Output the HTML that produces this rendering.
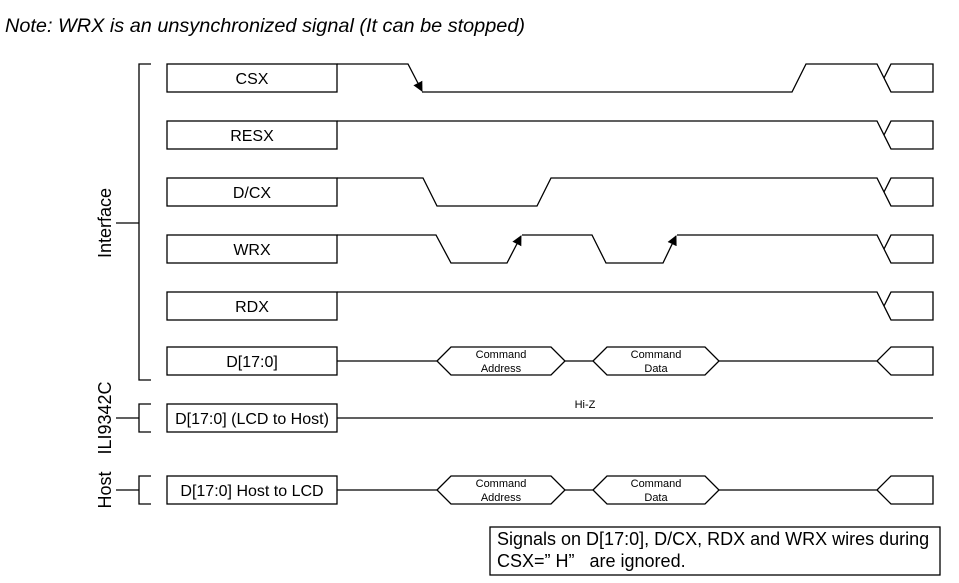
<!DOCTYPE html>
<html><head><meta charset="utf-8"><style>
html,body{margin:0;padding:0;background:#fff;width:959px;height:583px;overflow:hidden}
svg{display:block}
text{font-family:"Liberation Sans",Arial,sans-serif;fill:#000}
</style></head><body>
<svg width="959" height="583" viewBox="0 0 959 583" xmlns="http://www.w3.org/2000/svg">
<defs>
<marker id="ar" viewBox="0 0 10 10" refX="9" refY="5" markerWidth="10" markerHeight="10" orient="auto" markerUnits="userSpaceOnUse"><path d="M0,0 L10,5 L0,10 z" fill="#000"/></marker>
</defs>
<text x="5" y="32" font-size="19" font-style="italic" textLength="520" lengthAdjust="spacingAndGlyphs">Note: WRX is an unsynchronized signal (It can be stopped)</text>
<g fill="none" stroke="#000" stroke-width="1.3">
<polyline points="151,64 139,64 139,380 151,380"/>
<line x1="116" y1="223" x2="139" y2="223"/>
<polyline points="151,404 139,404 139,432 151,432"/>
<line x1="116" y1="418" x2="139" y2="418"/>
<polyline points="151,476 139,476 139,504 151,504"/>
<line x1="116" y1="490" x2="139" y2="490"/>
<rect x="167" y="64" width="170" height="28"/>
<rect x="167" y="121" width="170" height="28"/>
<rect x="167" y="178" width="170" height="28"/>
<rect x="167" y="235" width="170" height="28"/>
<rect x="167" y="292" width="170" height="28"/>
<rect x="167" y="347" width="170" height="28"/>
<rect x="167" y="404" width="170" height="28"/>
<rect x="167" y="476" width="170" height="28"/>
<polyline points="337,64 408,64 422,91" marker-end="url(#ar)"/>
<polyline points="422,92 792,92 806,64 877,64 891,92 933,92 933,64 891,64 884,78"/>
<polyline points="337,121 877,121 891,149 933,149 933,121 891,121 884,135"/>
<polyline points="337,178 423,178 437,206 537,206 551,178 877,178 891,206 933,206 933,178 891,178 884,192"/>
<polyline points="337,235 436,235 451,263 507,263 521,236" marker-end="url(#ar)"/>
<polyline points="522,235 592,235 606,263 663,263 676,236" marker-end="url(#ar)"/>
<polyline points="677,235 877,235 891,263 933,263 933,235 891,235 884,249"/>
<polyline points="337,292 877,292 891,320 933,320 933,292 891,292 884,306"/>
<polyline points="337,361 437,361"/>
<polygon points="437,361 451,347 551,347 565,361 551,375 451,375"/>
<line x1="565" y1="361" x2="593" y2="361"/>
<polygon points="593,361 607,347 705,347 719,361 705,375 607,375"/>
<polyline points="719,361 877,361 891,347 933,347 933,375 891,375 877,361"/>
<line x1="337" y1="418" x2="933" y2="418"/>
<polyline points="337,490 437,490"/>
<polygon points="437,490 451,476 551,476 565,490 551,504 451,504"/>
<line x1="565" y1="490" x2="593" y2="490"/>
<polygon points="593,490 607,476 705,476 719,490 705,504 607,504"/>
<polyline points="719,490 877,490 891,476 933,476 933,504 891,504 877,490"/>
<rect x="490" y="527" width="450" height="48"/>
</g>
<g font-size="16" text-anchor="middle">
<text x="252" y="84">CSX</text>
<text x="252" y="141">RESX</text>
<text x="252" y="198">D/CX</text>
<text x="252" y="255">WRX</text>
<text x="252" y="312">RDX</text>
<text x="252" y="367">D[17:0]</text>
<text x="252" y="424">D[17:0] (LCD to Host)</text>
<text x="252" y="496">D[17:0] Host to LCD</text>
</g>
<g font-size="11" text-anchor="middle">
<text x="501" y="358">Command</text><text x="501" y="372">Address</text>
<text x="656" y="358">Command</text><text x="656" y="372">Data</text>
<text x="501" y="487">Command</text><text x="501" y="501">Address</text>
<text x="656" y="487">Command</text><text x="656" y="501">Data</text>
<text x="585" y="408">Hi-Z</text>
</g>
<g font-size="18" text-anchor="middle">
<text transform="translate(111,223) rotate(-90)">Interface</text>
<text transform="translate(111,418) rotate(-90)">ILI9342C</text>
<text transform="translate(111,490) rotate(-90)">Host</text>
</g>
<text x="497" y="545" font-size="18">Signals on D[17:0], D/CX, RDX and WRX wires during</text>
<text x="497" y="567" font-size="18">CSX=”&#160;H”&#160;&#160; are ignored.</text>
</svg>
</body></html>
